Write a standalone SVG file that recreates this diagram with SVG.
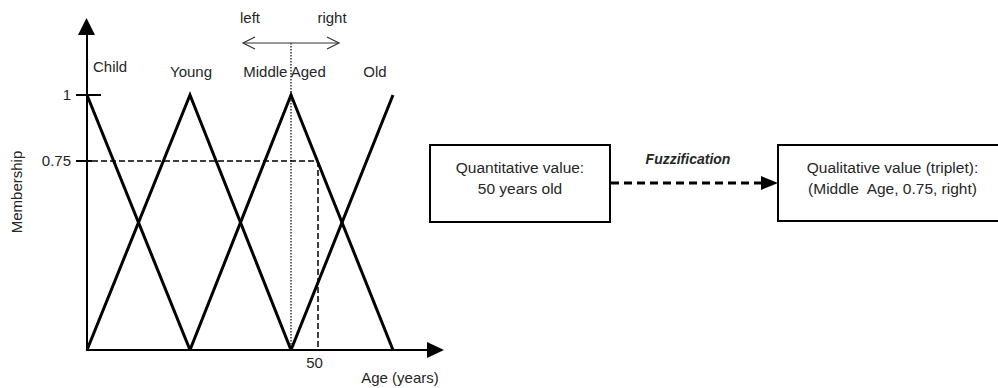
<svg xmlns="http://www.w3.org/2000/svg" width="998" height="388" viewBox="0 0 998 388">
<style>
text{font-family:"Liberation Sans",Arial,sans-serif;fill:#262626;}
.lbl{font-size:15px;}
.box{font-size:15.5px;text-anchor:middle;}
.tri{fill:none;stroke:#000;stroke-width:3;stroke-linejoin:miter;}
.axis{stroke:#000;stroke-width:2;fill:none;}
.dash{stroke:#000;stroke-width:1.5;stroke-dasharray:6 3;fill:none;}
.node{fill:#fff;stroke:#000;stroke-width:2;}
</style>
<g id="chart">
<line class="axis" x1="87" y1="350" x2="87" y2="34"/>
<polygon points="78,35 86.5,18 95,35" fill="#000"/>
<line class="axis" x1="86" y1="350" x2="428" y2="350"/>
<polygon points="427,342 444,350 427,358" fill="#000"/>
<line class="axis" x1="76" y1="95" x2="101" y2="95"/>
<line class="axis" x1="76" y1="161" x2="92" y2="161"/>
<line class="dash" x1="92" y1="161" x2="318" y2="161"/>
<line class="dash" x1="318" y1="161" x2="318" y2="350"/>
<polyline class="tri" points="87,95 190,350"/>
<polyline class="tri" points="87,350 190,95 291,350"/>
<polyline class="tri" points="190,350 291,95 393,350"/>
<polyline class="tri" points="291,350 393,95"/>
<line x1="291" y1="43" x2="291" y2="350" stroke="#000" stroke-width="1.2" stroke-dasharray="1.5 1.5"/>
<g fill="none" stroke="#333" stroke-width="1.2">
<line x1="243" y1="43" x2="339" y2="43"/>
<polyline points="255,37 243,43 255,49"/>
<polyline points="327,37 339,43 327,49"/>
</g>
<text class="lbl" x="250" y="23" text-anchor="middle">left</text>
<text class="lbl" x="332" y="23" text-anchor="middle">right</text>
<text class="lbl" x="93" y="72">Child</text>
<text class="lbl" x="191" y="77" text-anchor="middle">Young</text>
<text class="lbl" x="284.5" y="77" text-anchor="middle">Middle Aged</text>
<text class="lbl" x="375" y="77" text-anchor="middle">Old</text>
<text class="lbl" x="71" y="100" text-anchor="end">1</text>
<text class="lbl" x="71" y="166" text-anchor="end">0.75</text>
<text class="lbl" transform="translate(22,192) rotate(-90)" text-anchor="middle">Membership</text>
<text class="lbl" x="314.5" y="368" text-anchor="middle">50</text>
<text class="lbl" x="400" y="383" text-anchor="middle">Age (years)</text>
</g>
<g id="connectors">
<line x1="611" y1="183" x2="762" y2="183" stroke="#000" stroke-width="3" stroke-dasharray="8 5"/>
<polygon points="761,176 778,183 761,190" fill="#000"/>
<text x="688" y="164" text-anchor="middle" font-size="14" font-weight="bold" font-style="italic">Fuzzification</text>
</g>
<g id="quantitative">
<rect class="node" x="430" y="145" width="180" height="77"/>
<text class="box" x="520" y="173">Quantitative value:</text>
<text class="box" x="520" y="194">50 years old</text>
</g>
<g id="qualitative">
<rect class="node" x="778" y="145" width="229" height="76"/>
<text class="box" x="892.5" y="173">Qualitative value (triplet):</text>
<text class="box" x="892.5" y="194" xml:space="preserve" style="white-space:pre">(Middle  Age, 0.75, right)</text>
</g>
</svg>
